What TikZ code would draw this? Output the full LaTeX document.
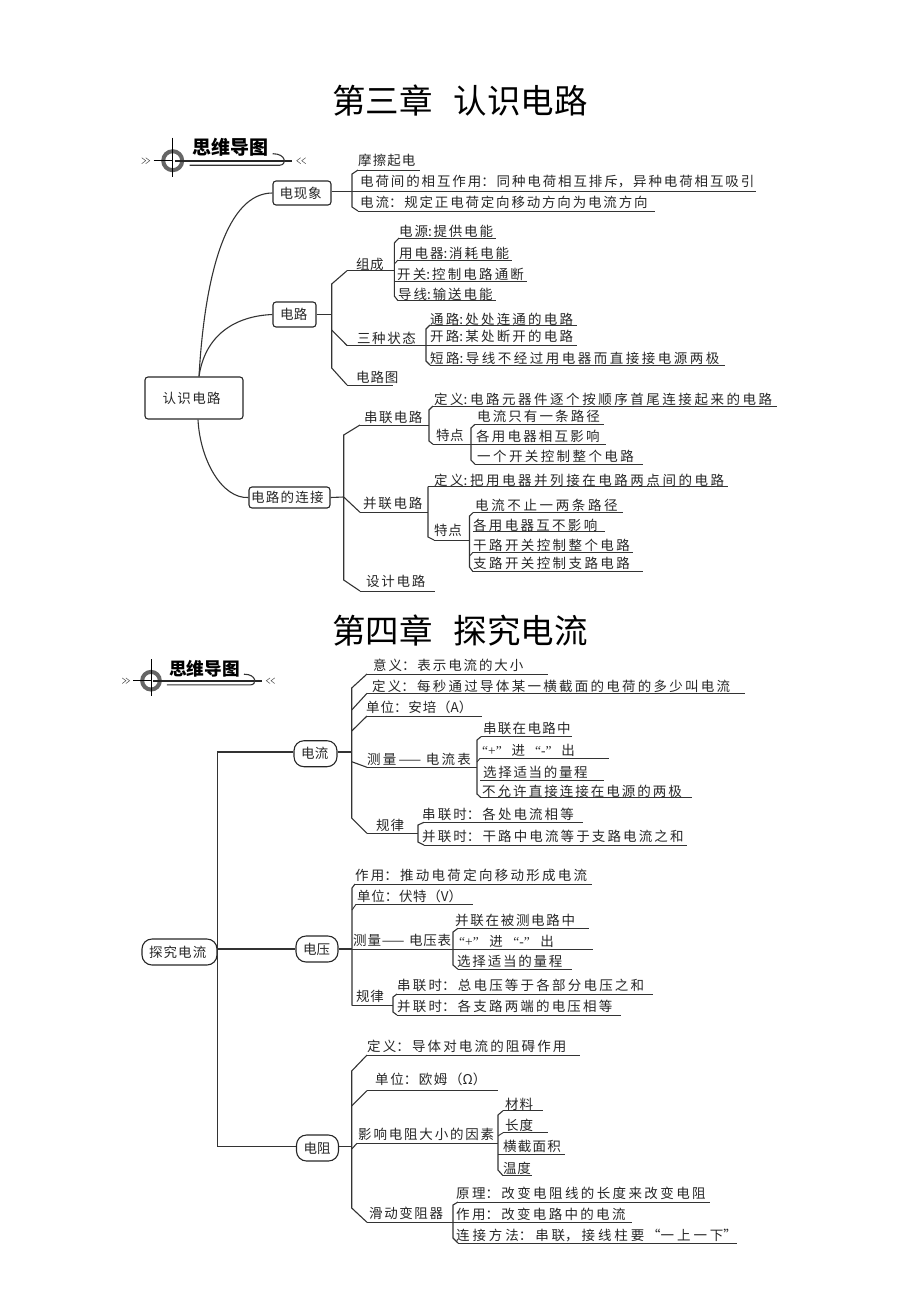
\documentclass[tikz,border=0pt]{standalone}
\usepackage{fontspec}
\setmainfont{Noto Sans CJK SC}
\newfontfamily\quotefont{Liberation Serif}
\XeTeXlinebreaklocale "zh"
\XeTeXlinebreakskip=0pt plus 8pt
\tolerance=10000
\hbadness=10000
\hfuzz=2pt
\begin{document}
\begin{tikzpicture}[x=1pt, y=-1pt,
	wire/.style={line width=1.1pt, black!80},
	thinwire/.style={line width=.9pt, black!80},
	spread/.style={inner sep=0pt, font=\fontsize{13.5}{15}\selectfont, text=black!85, execute at begin node={\parindent=0pt\parfillskip=0pt\relax}},
	leaf/.style={spread, anchor=base west},
	topicbox/.style={spread, draw=black!85, line width=1.1pt, rounded corners=3pt, minimum height=24pt},
	topicpill/.style={spread, draw=black!85, line width=1.1pt, rounded corners=10pt, minimum height=26pt},
	chaptitle/.style={inner sep=0pt, font=\fontsize{33.5}{40}\selectfont}]
	\useasboundingbox (0,0) rectangle (920,1302);
	\node[chaptitle] (chapc) at (460,101) {第三章\hspace{21pt}认识电路};
	\node[chaptitle] (chapd) at (460,631) {第四章\hspace{21pt}探究电流};
	% the two badges
	\foreach \lx/\ly/\ls/\ln in {172.7/160.7/1/a, 151/680.7/.93/b}{
		\begin{scope}[shift={(\lx,\ly)}, scale=\ls, transform shape]
			\draw[black!60, line width=4pt] (0,0) circle[radius=9.5];
			\draw[line width=.8pt] (0,-23) -- (0,16);
			\draw[line width=.8pt] (-19,0) -- (0,0);
			\draw[line width=2.2pt, black!85] (2,0) -- (119,0);
			\draw[line width=1.1pt, black!80] (17,4.5) -- (107,4.5) .. controls (114,4.5) and (114,-7) .. (100,-7);
			\foreach \cx in {-31,-27}
				\draw[line width=.5pt, black!70] (\cx,-3) -- (\cx+4,0) -- (\cx,3);
			\foreach \cx in {128,133}
				\draw[line width=.5pt, black!70] (\cx,-3) -- (\cx-4,0) -- (\cx,3);
			\node[font=\fontsize{19}{20}\selectfont\bfseries, inner sep=0pt] (logo\ln) at (57.5,-13) {思维导图};
		\end{scope}
	}
	% name/line from/line to/line y/text from/text to/text height/text
	\foreach \nm/\us/\ue/\yy/\ts/\te/\dd/\tx in {
		mc/358/420/170/358/417/10/摩擦起电,
		dh/352/756/191.7/360/755/10/电荷间的相互作用：同种电荷相互排斥，异种电荷相互吸引,
		dl/358/655/211/360/648/8.3/电流：规定正电荷定向移动方向为电流方向,
		zc/347/394/270.7/356/384/6.7/组成,
		dy/399/496/238/399/496/6.6/电源:提供电能,
		yd/398/512/260/399/512/7/用电器:消耗电能,
		kg/394/527/281/397/527/7/开关:控制电路通断,
		dx/398/496/300.7/398/496/6.7/导线:输送电能,
		sz/347/426/345.5/357/419/7.5/三种状态,
		tl/430/577/325/430/576/6/通路:处处连通的电路,
		kl/426/577/345.5/430/576/9/开路:某处断开的电路,
		cl/430/725/365/430/722/7/短路:导线不经过用电器而直接接电源两极,
		dt/347/393/385/356/400/7.7/电路图,
		cb/360/429/425/364/425/7.7/串联电路,
		cd/433/777/406/434/775/7/定义:电路元器件逐个按顺序首尾连接起来的电路,
		ct/433/471/444.3/436/464/8.6/特点,
		ca/475/604/424.3/477/603/7.6/电流只有一条路径,
		cg/471/606/444.3/476/603/7.6/各用电器相互影响,
		ck/475/643/464.3/477/637/8.3/一个开关控制整个电路,
		bb/360/428/512.3/363/426/9/并联电路,
		bd/428/728/486.7/434/727/6.7/定义:把用电器并列接在电路两点间的电路,
		bt/434/469.5/540/434/463/10/特点,
		ba/473/623/512.7/475/622/7.7/电流不止一两条路径,
		bg/473/605/531.7/473/601/6/各用电器互不影响,
		bk/473/633/552.3/473/633/7.3/干路开关控制整个电路,
		bz/473/643/571.7/473/633/8.4/支路开关控制支路电路,
		sj/360/435/591/366/429/9.3/设计电路,
		ay/367/548/674/373/525/8.3/意义：表示电流的大小,
		ad/367/745/693.3/372/732/6.6/定义：每秒通过导体某一横截面的电荷的多少叫电流,
		aw/367/482/716/366/472/8.7/单位：安培（A）,
		ac/367/477/767.3/367/475/8.3/测量—— 电流表,
		ab/367/418/833.3/376/406/7.6/规律,
		ma/481/572/736.7/483/572/8.7/串联在电路中,
		mb/480/609/758.3/482/572/8.3/{\quotefont “+”}\hfil 进\hfil {\quotefont “-”}\hfil 出,
		mn/480/604/780/483/590/7.3/选择适当的量程,
		md/481/692/797.7/482/683/6.7/不允许直接连接在电源的两极,
		ga/424/583/822.3/422/576/8.3/串联时：各处电流相等,
		gb/424/687/845/422/685/8.3/并联时：干路中电流等于支路电流之和,
		vz/355/592/884/355/589/9/作用：推动电荷定向移动形成电流,
		vw/356/473/904.3/357/461/7.6/单位：伏特（V）,
		vc/352/593/949/353/451/9/测量—— 电压表,
		va/458/589/928.3/455/577/8.3/并联在被测电路中,
		vb/458/593/949/459/551/7.3/{\quotefont “+”}\hfil 进\hfil {\quotefont “-”}\hfil 出,
		vd/458/572/969.3/457/565/7.6/选择适当的量程,
		vg/352/393/1005.7/356/385/9/规律,
		ve/397/653/994/397/646/8.3/串联时：总电压等于各部分电压之和,
		vf/397/621/1015/397/614/8.3/并联时：各支路两端的电压相等,
		rd/367/580/1055/367/568/8.3/定义：导体对电流的阻碍作用,
		rw/367/498/1090.7/375/488/11.4/单位：欧姆（Ω）,
		ry/357/498/1143.3/358/496/9.3/影响电阻大小的因素,
		rc/503/543/1110.7/505/535/6.7/材料,
		rl/503/548/1132.7/505/535/7.7/长度,
		rm/498/565/1154/503/563/7.3/横截面积,
		rt/503/532/1175.7/503/532/7.4/温度,
		rh/367/453/1222.3/369/446/9/滑动变阻器,
		rp/458/710/1202/456/708/8.7/原理：改变电阻线的长度来改变电阻,
		rz/453/632/1222.3/456/628/8.3/作用：改变电路中的电流,
		rf/458/737/1243/456/741/7.3/连接方法：串联，接线柱要“一上一下”}{
		\pgfmathsetmacro{\tw}{\te-\ts+min(5.5,0.03*(\te-\ts))}
		\node[leaf, text width=\tw pt] (\nm) at (\ts,\yy-\dd+5) {\tx};
		\coordinate (\nm-s) at (\us,\yy);
		\coordinate (\nm-e) at (\ue,\yy);
		\draw[thinwire] (\nm-s) -- (\nm-e);
	}
	% topics
	\node[topicbox, text width=63pt, minimum width=98pt, minimum height=42pt] (root) at (194,398) {认识电路};
	\node[topicbox, text width=45pt, minimum width=58pt] (xx) at (302,193) {电现象};
	\node[topicbox, text width=29pt, minimum width=43pt, minimum height=25pt] (dianlu) at (294.5,314.5) {电路};
	\node[topicbox, text width=77pt, minimum width=81pt, minimum height=21pt] (lianjie) at (289.5,497.5) {电路的连接};
	\node[topicpill, text width=61pt, minimum width=75pt] (tanjiu) at (179.5,952) {探究电流};
	\node[topicpill, text width=29pt, minimum width=43pt] (dianliu) at (315.5,753.7) {电流};
	\node[topicpill, text width=28pt, minimum width=42pt] (dianya) at (317,949) {电压};
	\node[topicpill, text width=28pt, minimum width=42pt] (dianzu) at (317.5,1148) {电阻};
	% first chapter
	\draw[wire] ([xshift=5pt]root.north) .. controls (205,270) and (228,193) .. (xx.west);
	\draw[wire] ([xshift=5pt]root.north) .. controls (205,335) and (235,316) .. (dianlu.west);
	\draw[wire] ([xshift=4pt]root.south) .. controls (200,460) and (222,499) .. (lianjie.west);
	\draw[wire] (xx.east |- dh-s) -- (dh-s);
	\draw[wire] (mc-s) -- (352,174) -- (352,207) -- (dl-s);
	\coordinate (tra) at (331.7,314.5);
	\draw[wire] (dianlu.east) -- (tra);
	\draw[wire] (zc-s) -- (331.7,284) -- (331.7,368) -- (dt-s);
	\draw[wire] (331.7,330) -- (sz-s);
	\draw[wire] (dy-s) -- (394.3,243) -- (394.3,296) -- (dx-s);
	\draw[thinwire] (yd-s) -- (394.3,264);
	\draw[wire] (tl-s) -- (426,329) -- (426,361) -- (cl-s);
	\coordinate (trb) at (343.7,497);
	\draw[wire] (lianjie.east) -- (trb);
	\draw[wire] (cb-s) -- (343.7,435) -- (343.7,580) -- (sj-s);
	\draw[wire] (trb) -- (bb-s);
	\draw[wire] (cd-s) -- (429,410) -- (429,441) -- (ct-s);
	\draw[wire] (ca-s) -- (471,428) -- (471,460) -- (ck-s);
	\draw[wire] (bd-s) -- (428,537) -- (bt-s);
	\draw[wire] (ba-s) -- (469.5,516) -- (469.5,567) -- (bz-s);
	\draw[thinwire] (bk-s) -- (469.5,556);
	% second chapter
	\coordinate (trc) at (351.7,752);
	\coordinate (trd) at (351.7,1146.7);
	\draw[wire] (dianliu.west |- trc) -- (217.7,752) -- (217.7,1146.7) -- (dianzu.west |- trd);
	\draw[wire] (tanjiu.east |- dianya.west) -- (dianya.west);
	\draw[wire] (dianliu.east |- trc) -- (trc);
	\draw[wire] (ay-s) -- (351.7,688) -- (351.7,818) -- (ab-s);
	\draw[wire] (ad-s) -- (351.7,710);
	\draw[wire] (aw-s) -- (351.7,731);
	\draw[wire] (ac-s) -- (351.7,761.7);
	\draw[wire] (ma-s) -- (477,740) -- (477,794) -- (md-s);
	\draw[thinwire] (mb-s) -- (477,762);
	\draw[wire] (ga-s) -- (418,825) -- (418,842) -- (gb-s);
	\draw[wire] (dianya.east) -- (vc-s);
	\draw[wire] (vz-s) -- (352,888) -- (352,1005.7) -- (vg-s);
	\draw[thinwire] (vw-s) -- (352,910);
	\draw[wire] (va-s) -- (453,932) -- (453,965) -- (vd-s);
	\draw[wire] (ve-s) -- (393,997) -- (393,1012) -- (vf-s);
	\draw[wire] (dianzu.east |- trd) -- (trd);
	\draw[wire] (rd-s) -- (351.7,1071) -- (351.7,1208) -- (rh-s);
	\draw[wire] (rw-s) -- (351.7,1106);
	\draw[wire] (ry-s) -- (351.7,1149);
	\draw[wire] (rc-s) -- (498,1115) -- (498,1170) -- (rt-s);
	\draw[thinwire] (rl-s) -- (498,1136);
	\draw[wire] (rp-s) -- (453,1205) -- (453,1238) -- (rf-s);
\end{tikzpicture}
\end{document}
